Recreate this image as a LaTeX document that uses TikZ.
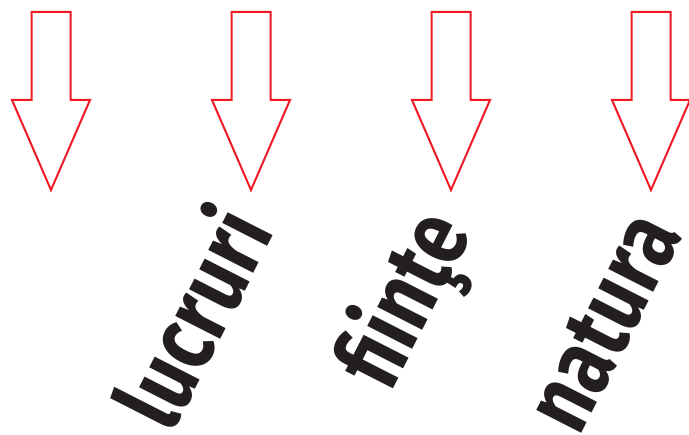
\documentclass[tikz,border=0pt]{standalone}
\usepackage{fontspec}
\setmainfont{Fira Sans}
\newfontfamily\wordfont[FakeStretch=0.8]{Fira Sans}
\definecolor{arrowred}{RGB}{237,28,36}
\definecolor{inkblack}{RGB}{35,31,32}
\tikzset{
  downarrow/.style={draw=arrowred,line width=2pt,fill=white,line join=miter},
  word/.style={font=\wordfont\bfseries\fontsize{95}{95}\selectfont,
    text=inkblack,rotate=63,inner sep=0pt}
}

\begin{document}
\begin{tikzpicture}[x=1pt,y=-1pt]
  \useasboundingbox (0,0) rectangle (689,435);
  % hollow arrows pointing down
  \foreach \cx in {51,251,451,651}
    \draw[downarrow] (\cx-19.5,12) -- (\cx+19.5,12) -- (\cx+19.5,100)
      -- (\cx+39,100) -- (\cx,190) -- (\cx-39,100) -- (\cx-19.5,100) -- cycle;
  % slanted words under the arrows
  \node[word] (lucruri) at (190,316) {lucruri};
  \node[word] (fiinte) at (408,302) {fiinţe};
  \node[word] (natura) at (604,322) {natura};
\end{tikzpicture}
\end{document}
